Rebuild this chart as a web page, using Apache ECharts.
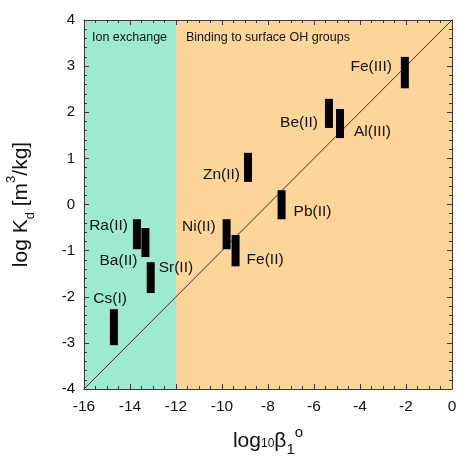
<!DOCTYPE html>
<html>
<head>
<meta charset="utf-8">
<script src="https://cdn.jsdelivr.net/npm/echarts@6/dist/echarts.min.js"></script>
<style>
html,body{margin:0;padding:0;background:#fff;}
#chart{width:458px;height:460px;}
</style>
</head>
<body>
<div id="chart"></div>
<script>
// ---- data ----
const ions    = ['Cs(I)','Ra(II)','Ba(II)','Sr(II)','Ni(II)','Fe(II)','Zn(II)','Pb(II)','Be(II)','Al(III)','Fe(III)'];
const logBeta = [-14.7, -13.7, -13.33, -13.1, -9.8, -9.41, -8.87, -7.41, -5.35, -4.87, -2.05];
const kdLow   = [-3.05, -0.97, -1.14, -1.92, -0.97, -1.34, 0.49, -0.32, 1.66, 1.44, 2.52];
const kdHigh  = [-2.27, -0.32, -0.51, -1.25, -0.32, -0.66, 1.12, 0.31, 2.29, 2.07, 3.20];

const fitX = [-16, 0];
const fitY = [-4, 4];

const regionNames = ['Ion exchange', 'Binding to surface OH groups'];
const regionStart = [-16, -12];
const regionEnd   = [-12, 0];

const xMin = -16, xMax = 0, xStep = 2;
const yMin = -4,  yMax = 4,  yStep = 1;

// ---- styles ----
const FONT = "'Liberation Sans', Arial, sans-serif";
const TXT = '#111111';
const regionColors = ['#9DEBCE', '#FDD599'];
const labelPlace = {
  'Cs(I)':   {edge:'right', dx: 9,  align:'right', ref:'top',    dy:-10},
  'Ra(II)':  {edge:'left',  dx:-5,  align:'right', ref:'top',    dy:6},
  'Ba(II)':  {edge:'left',  dx:-4,  align:'right', ref:'bottom', dy:4},
  'Sr(II)':  {edge:'right', dx:4,   align:'left',  ref:'top',    dy:6},
  'Ni(II)':  {edge:'left',  dx:-7,  align:'right', ref:'top',    dy:7},
  'Fe(II)':  {edge:'right', dx:7,   align:'left',  ref:'bottom', dy:-7},
  'Zn(II)':  {edge:'left',  dx:-4,  align:'right', ref:'bottom', dy:-7},
  'Pb(II)':  {edge:'right', dx:8,   align:'left',  ref:'bottom', dy:-8},
  'Be(II)':  {edge:'left',  dx:-7,  align:'right', ref:'bottom', dy:-5},
  'Al(III)': {edge:'right', dx:10,  align:'left',  ref:'bottom', dy:-6},
  'Fe(III)': {edge:'left',  dx:-9,  align:'right', ref:'top',    dy:10}
};
const BAR_W = 8;

const chart = echarts.init(document.getElementById('chart'), null, {renderer:'canvas'});

const axisCommon = {
  type: 'value',
  axisLine: {show: true, onZero: false, lineStyle: {color: '#3a3a3a', width: 1}},
  axisTick: {show: true, inside: true, length: 5, lineStyle: {color: '#3a3a3a'}},
  minorTick: {show: true, length: 3, lineStyle: {color: '#3a3a3a'}},
  splitLine: {show: false},
  minorSplitLine: {show: false}
};

const regionData = regionStart.map((s, i) => [s, regionEnd[i], i]);
const barData = ions.map((n, i) => [logBeta[i], kdLow[i], kdHigh[i], i]);

const option = {
  animation: false,
  backgroundColor: '#ffffff',
  grid: {left: 84, right: 6, top: 20, bottom: 71, containLabel: false, outerBoundsMode: 'none'},
  xAxis: [
    Object.assign({}, axisCommon, {
      position: 'bottom', min: xMin, max: xMax, interval: xStep,
      minorTick: Object.assign({}, axisCommon.minorTick, {splitNumber: 4}),
      axisLabel: {show: true, margin: 10, fontSize: 15.5, color: TXT, fontFamily: FONT},
      name: '{a|log}{s|10}{a|β}{b|1}{c|o}',
      nameLocation: 'middle', nameGap: 36,
      nameTextStyle: {
        fontFamily: FONT, color: TXT,
        rich: {
          a: {fontSize: 21, lineHeight: 32, fontFamily: FONT, color: TXT},
          s: {fontSize: 12, lineHeight: 12, verticalAlign: 'bottom', padding: [0,0,7,0], fontFamily: FONT, color: TXT},
          b: {fontSize: 15, lineHeight: 15, verticalAlign: 'bottom', fontFamily: FONT, color: TXT},
          c: {fontSize: 15, lineHeight: 15, verticalAlign: 'top', fontFamily: FONT, color: TXT}
        }
      }
    }),
    Object.assign({}, axisCommon, {
      position: 'top', min: xMin, max: xMax, interval: xStep,
      minorTick: Object.assign({}, axisCommon.minorTick, {splitNumber: 4}),
      axisLabel: {show: false}
    })
  ],
  yAxis: [
    Object.assign({}, axisCommon, {
      position: 'left', min: yMin, max: yMax, interval: yStep,
      minorTick: Object.assign({}, axisCommon.minorTick, {splitNumber: 5}),
      axisLabel: {show: true, margin: 9, fontSize: 15, color: TXT, fontFamily: FONT},
      name: '{a|log K}{b|d}{a| [m}{c|3}{a|/kg]}',
      nameLocation: 'middle', nameGap: 47, nameRotate: 90,
      nameTextStyle: {
        fontFamily: FONT, color: TXT,
        rich: {
          a: {fontSize: 21, lineHeight: 32, fontFamily: FONT, color: TXT},
          b: {fontSize: 13, lineHeight: 13, verticalAlign: 'bottom', fontFamily: FONT, color: TXT},
          c: {fontSize: 13, lineHeight: 13, verticalAlign: 'top', fontFamily: FONT, color: TXT}
        }
      }
    }),
    Object.assign({}, axisCommon, {
      position: 'right', min: yMin, max: yMax, interval: yStep,
      minorTick: Object.assign({}, axisCommon.minorTick, {splitNumber: 5}),
      axisLabel: {show: false}
    })
  ],
  series: [
    {
      type: 'custom', name: 'regions', z: 0, silent: true,
      xAxisIndex: 0, yAxisIndex: 0,
      data: regionData,
      renderItem: function (params, api) {
        const p0 = api.coord([api.value(0), yMax]);
        const p1 = api.coord([api.value(1), yMin]);
        const idx = api.value(2);
        return {
          type: 'group',
          children: [
            {type: 'rect', shape: {x: p0[0], y: p0[1], width: p1[0] - p0[0], height: p1[1] - p0[1]},
             style: {fill: regionColors[idx]}},
            {type: 'text', z2: 5,
             style: {text: regionNames[idx], x: p0[0] + (idx === 0 ? 8 : 10), y: p0[1] + 18,
                     align: 'left', verticalAlign: 'middle', fontSize: 12.5, fontFamily: FONT, fill: TXT}}
          ]
        };
      }
    },
    {
      type: 'line', name: 'fit', z: 2, silent: true,
      xAxisIndex: 0, yAxisIndex: 0,
      data: fitX.map((x, i) => [x, fitY[i]]),
      symbol: 'none',
      lineStyle: {color: '#333333', width: 1}
    },
    {
      type: 'custom', name: 'Kd', z: 3, silent: true,
      xAxisIndex: 0, yAxisIndex: 0,
      data: barData,
      renderItem: function (params, api) {
        const x = api.value(0);
        const pLo = api.coord([x, api.value(1)]);
        const pHi = api.coord([x, api.value(2)]);
        const idx = api.value(3);
        const name = ions[idx];
        const left = pLo[0] - BAR_W / 2, right = pLo[0] + BAR_W / 2;
        const top = pHi[1], bottom = pLo[1];
        const pl = labelPlace[name];
        const tx = (pl.edge === 'left' ? left : right) + pl.dx;
        const ty = (pl.ref === 'top' ? top : bottom) + pl.dy;
        return {
          type: 'group',
          children: [
            {type: 'rect', shape: {x: left, y: top, width: BAR_W, height: bottom - top},
             style: {fill: '#000000'}},
            {type: 'text',
             style: {text: name, x: tx, y: ty, align: pl.align, verticalAlign: 'middle',
                     fontSize: 15.5, fontFamily: FONT, fill: TXT}}
          ]
        };
      }
    }
  ]
};
chart.setOption(option);
</script>
</body>
</html>
